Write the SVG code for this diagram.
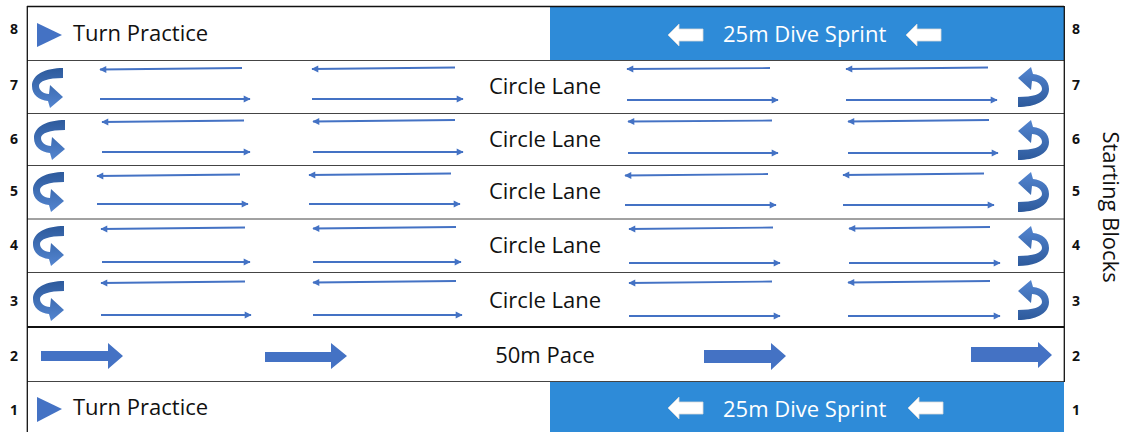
<svg xmlns="http://www.w3.org/2000/svg" width="1133" height="432" viewBox="0 0 1133 432">
<defs>
<style>
.t{font-family:"Open Sans","Liberation Sans",sans-serif;font-size:22px;fill:#111}
.tw{font-family:"Open Sans","Liberation Sans",sans-serif;font-size:22px;fill:#fff}
.n{font-family:"Open Sans","Liberation Sans",sans-serif;font-size:14px;font-weight:bold;fill:#111;text-anchor:middle}
.ln{stroke:#4472C4;stroke-width:1.8;fill:none;marker-end:url(#ah)}
.blk{fill:#4472C4}
.wa{fill:#fff;stroke:#d9d9d9;stroke-width:0.8}
.sep{stroke:#444;stroke-width:1}
</style>
<marker id="ah" viewBox="0 0 10 10" refX="9" refY="5" markerWidth="8" markerHeight="7" markerUnits="userSpaceOnUse" orient="auto" overflow="visible">
<path d="M0 0 L10 5 L0 10 Z" fill="#4472C4"/>
</marker>
<linearGradient id="ug" x1="0" y1="0" x2="0" y2="1">
<stop offset="0" stop-color="#5385D0"/>
<stop offset="1" stop-color="#2D5A9C"/>
</linearGradient>
<path id="uturn" fill="url(#ug)" d="M-16 20 C1 20 15 14 15 2 C15 -7 8 -12 -1 -13 L-3 -20 L-16 -9 L-3 3 L-2 -6 C4 -6 8 -2 8 2 C8 7 -1 10 -16 10 Z"/>
<path id="warr" d="M0 0 L11 -11 L11 -6 L35 -6 L35 6 L11 6 L11 11 Z"/>
</defs>
<rect x="0" y="0" width="1133" height="432" fill="#fff"/>

<g id="lanes">
<rect x="550" y="7" width="514" height="53.5" fill="#2E8BD8"/>
<rect x="550" y="382" width="514" height="50" fill="#2E8BD8"/>
<line class="sep" x1="27" y1="60.5" x2="1064" y2="60.5"/>
<line class="sep" x1="27" y1="113.5" x2="1064" y2="113.5"/>
<line class="sep" x1="27" y1="165.5" x2="1064" y2="165.5" stroke="#777"/>
<line class="sep" x1="27" y1="219" x2="1064" y2="219" stroke="#777"/>
<line class="sep" x1="27" y1="272.5" x2="1064" y2="272.5"/>
<line x1="27" y1="327" x2="1064" y2="327" stroke="#111" stroke-width="2"/>
<line class="sep" x1="27" y1="381.5" x2="1064" y2="381.5"/>
<line x1="27" y1="6.5" x2="1064" y2="6.5" stroke="#111" stroke-width="1.3"/>
<line x1="27.3" y1="6" x2="27.3" y2="432" stroke="#111" stroke-width="1.3"/>
<line x1="1064.3" y1="6" x2="1064.3" y2="382" stroke="#111" stroke-width="1.3"/>
</g>

<g id="lane-numbers">
<text class="n" x="14" y="34">8</text>
<text class="n" x="14" y="90">7</text>
<text class="n" x="14" y="144">6</text>
<text class="n" x="14" y="196">5</text>
<text class="n" x="14" y="250">4</text>
<text class="n" x="14" y="306">3</text>
<text class="n" x="14" y="361">2</text>
<text class="n" x="14" y="415">1</text>
<text class="n" x="1076" y="34">8</text>
<text class="n" x="1076" y="90">7</text>
<text class="n" x="1076" y="144">6</text>
<text class="n" x="1076" y="196">5</text>
<text class="n" x="1076" y="250">4</text>
<text class="n" x="1076" y="306">3</text>
<text class="n" x="1076" y="361">2</text>
<text class="n" x="1076" y="415">1</text>
</g>

<g id="lane8">
<path class="blk" d="M37 23 L62 35 L37 47 Z"/>
<text class="t" x="73" y="41">Turn Practice</text>
<use href="#warr" x="668" y="35" class="wa"/>
<text class="tw" x="723" y="42">25m Dive Sprint</text>
<use href="#warr" x="906" y="35" class="wa"/>
</g>

<g id="lane7">
<use href="#uturn" transform="translate(47,88) rotate(180)"/>
<use href="#uturn" transform="translate(1034,87)"/>
<text class="t" x="545" y="94" text-anchor="middle">Circle Lane</text>
</g>
<g id="lane6">
<use href="#uturn" transform="translate(49,140) rotate(180)"/>
<use href="#uturn" transform="translate(1034,140)"/>
<text class="t" x="545" y="147" text-anchor="middle">Circle Lane</text>
</g>
<g id="lane5">
<use href="#uturn" transform="translate(48,192) rotate(180)"/>
<use href="#uturn" transform="translate(1034,192)"/>
<text class="t" x="545" y="199" text-anchor="middle">Circle Lane</text>
</g>
<g id="lane4">
<use href="#uturn" transform="translate(48,246) rotate(180)"/>
<use href="#uturn" transform="translate(1034,246)"/>
<text class="t" x="545" y="253" text-anchor="middle">Circle Lane</text>
</g>
<g id="lane3">
<use href="#uturn" transform="translate(48,301) rotate(180)"/>
<use href="#uturn" transform="translate(1034,300)"/>
<text class="t" x="545" y="308" text-anchor="middle">Circle Lane</text>
</g>

<g id="lane2">
<path class="blk" d="M41 351 L108 351 L108 343 L123 356 L108 369 L108 361 L41 361 Z"/>
<path class="blk" d="M265 352 L331 352 L331 343 L347 356 L331 369 L331 362 L265 362 Z"/>
<path class="blk" d="M704 350 L771 350 L771 343 L786 356 L771 370 L771 363 L704 363 Z"/>
<path class="blk" d="M971 347 L1038 347 L1038 342 L1052 355 L1038 368 L1038 362 L971 362 Z"/>
<text class="t" x="545" y="363" text-anchor="middle">50m Pace</text>
</g>

<g id="lane1">
<path class="blk" d="M37 397 L62 409 L37 422 Z"/>
<text class="t" x="73" y="415">Turn Practice</text>
<use href="#warr" x="668" y="408" class="wa"/>
<text class="tw" x="723" y="417">25m Dive Sprint</text>
<use href="#warr" x="908" y="408" class="wa"/>
</g>

<g id="connectors">
<line class="ln" x1="242" y1="68" x2="100" y2="69.5"/>
<line class="ln" x1="455" y1="67.5" x2="312" y2="69"/>
<line class="ln" x1="770" y1="68" x2="627" y2="69"/>
<line class="ln" x1="988" y1="67.5" x2="846" y2="69"/>
<line class="ln" x1="100" y1="99" x2="250" y2="99"/>
<line class="ln" x1="312" y1="99" x2="463" y2="99"/>
<line class="ln" x1="627" y1="100" x2="778" y2="100"/>
<line class="ln" x1="846" y1="100" x2="997" y2="100"/>

<line class="ln" x1="244" y1="120.5" x2="102" y2="122"/>
<line class="ln" x1="455" y1="120" x2="313" y2="121.5"/>
<line class="ln" x1="772" y1="120.5" x2="628" y2="121.5"/>
<line class="ln" x1="989" y1="120" x2="848" y2="121.5"/>
<line class="ln" x1="102" y1="152" x2="250" y2="152"/>
<line class="ln" x1="313" y1="152" x2="463" y2="152"/>
<line class="ln" x1="628" y1="153" x2="778" y2="153"/>
<line class="ln" x1="848" y1="153" x2="998" y2="153"/>

<line class="ln" x1="240" y1="174.5" x2="97" y2="176"/>
<line class="ln" x1="451" y1="173.5" x2="309" y2="175"/>
<line class="ln" x1="768" y1="174" x2="625" y2="175.5"/>
<line class="ln" x1="984" y1="173.5" x2="843" y2="175"/>
<line class="ln" x1="97" y1="204" x2="248" y2="204"/>
<line class="ln" x1="309" y1="204" x2="460" y2="204"/>
<line class="ln" x1="625" y1="205" x2="776" y2="205"/>
<line class="ln" x1="843" y1="205" x2="994" y2="205"/>

<line class="ln" x1="245" y1="227.5" x2="101" y2="229"/>
<line class="ln" x1="456" y1="227" x2="313" y2="228.5"/>
<line class="ln" x1="773" y1="227.5" x2="629" y2="229"/>
<line class="ln" x1="990" y1="227" x2="849" y2="228.5"/>
<line class="ln" x1="102" y1="262" x2="250" y2="262"/>
<line class="ln" x1="313" y1="262" x2="461" y2="262"/>
<line class="ln" x1="629" y1="263" x2="780" y2="263"/>
<line class="ln" x1="849" y1="263" x2="1000" y2="263"/>

<line class="ln" x1="245" y1="281.5" x2="101" y2="283"/>
<line class="ln" x1="456" y1="281" x2="313" y2="282.5"/>
<line class="ln" x1="772" y1="281.5" x2="629" y2="283"/>
<line class="ln" x1="990" y1="281" x2="848" y2="282.5"/>
<line class="ln" x1="101" y1="315" x2="251" y2="315"/>
<line class="ln" x1="313" y1="315" x2="462" y2="315"/>
<line class="ln" x1="629" y1="316" x2="780" y2="316"/>
<line class="ln" x1="848" y1="316" x2="1000" y2="316"/>
</g>

<g id="starting-blocks">
<text class="t" x="0" y="0" text-anchor="middle" transform="translate(1103,207) rotate(90)">Starting Blocks</text>
</g>
</svg>
